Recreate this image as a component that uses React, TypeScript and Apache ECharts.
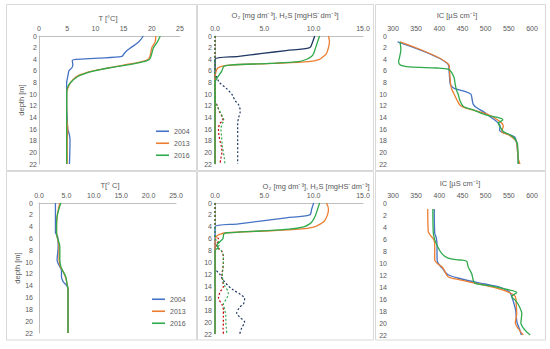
import React, { useEffect, useRef } from 'react';
import * as echarts from 'echarts';

const YEARS = ['2004', '2013', '2016'];
const DEPTH_MIN = 0;
const DEPTH_MAX = 22;

// ---------- Top-left: temperature ----------
const D_T_TOP_2004 = [0, 1, 2, 2.5, 3, 3.5, 3.8, 4, 4.2, 5, 5.5, 6, 7, 8, 10, 12, 14, 16, 17, 18, 22];
const T_TOP_2004 = [18.5, 17.7, 16.3, 15.6, 15.1, 14.7, 10.5, 6.6, 5.9, 6.0, 5.8, 5.3, 5.1, 4.9, 4.9, 4.9, 5.0, 5.1, 5.4, 5.5, 5.4];
const D_T_TOP_1316 = [0, 1, 2, 3, 4, 4.5, 5, 5.5, 6, 6.5, 7, 8, 9, 10, 12, 14, 16, 18, 20, 22];
const T_TOP_2013 = [20.7, 20.6, 20.0, 19.8, 19.4, 17.8, 15.0, 12.2, 9.6, 7.8, 6.6, 5.6, 5.1, 4.9, 4.9, 4.9, 5.1, 5.0, 5.0, 5.0];
const T_TOP_2016 = [21.5, 21.0, 20.3, 20.0, 19.6, 18.2, 15.5, 12.4, 9.8, 8.0, 6.8, 5.6, 5.0, 4.9, 4.9, 4.9, 4.9, 4.9, 4.9, 4.9];

// ---------- Top-middle: O2 and H2S ----------
const D_O2_TOP_2004 = [0, 1, 2, 2.5, 3, 3.5, 4, 22];
const O2_TOP_2004 = [10.1, 9.9, 9.6, 7.2, 4.8, 2.4, 0, 0];
const D_O2_TOP_2013 = [0, 1, 2, 3, 3.5, 4, 4.4, 4.7, 5, 5.3, 5.7, 6.5, 7, 22];
const O2_TOP_2013 = [11.5, 11.6, 11.5, 11.3, 11.0, 10.6, 9.5, 6.0, 1.5, 0.5, 0.2, 0.05, 0, 0];
const D_O2_TOP_2016 = [0, 1, 2, 3, 3.5, 4, 4.4, 4.7, 5, 5.2, 6, 7, 7.5, 8, 22];
const O2_TOP_2016 = [10.6, 10.4, 10.2, 10.0, 9.8, 9.3, 8.5, 5.5, 1.5, 0.9, 0.7, 0.3, 0.1, 0, 0];
const D_H2S_TOP_2004 = [0, 6, 7, 8, 9, 10, 11, 12, 13, 14, 15, 16, 18, 20, 22];
const H2S_TOP_2004 = [0, 0, 0.15, 0.45, 1.15, 1.7, 2.0, 2.45, 2.55, 2.4, 2.3, 2.3, 2.3, 2.3, 2.3];
const D_H2S_TOP_2013 = [0, 11, 11.5, 12, 13, 14, 14.5, 15, 16, 17, 18, 19, 20, 21, 22];
const H2S_TOP_2013 = [0, 0, 0.1, 0.25, 0.45, 0.75, 0.8, 0.5, 0.35, 0.4, 0.5, 0.65, 0.7, 0.6, 0.5];
const D_H2S_TOP_2016 = [0, 11, 12, 13, 14, 14.5, 15, 16, 17, 18, 19, 20, 21, 22];
const H2S_TOP_2016 = [0, 0, 0.2, 0.5, 0.8, 0.9, 0.75, 0.6, 0.65, 0.7, 0.75, 0.85, 0.95, 1.0];

// ---------- Top-right: IC ----------
const D_IC_TOP_2004 = [1, 5, 6, 7, 8, 8.5, 9, 9.5, 10, 11, 11.7, 12.3, 13, 14, 14.8, 15.4, 16.2, 17.3, 18.5, 20, 22];
const IC_TOP_2004 = [310, 420, 421, 422, 423, 425, 432, 455, 468, 471, 473, 480, 495, 512, 525, 531, 530, 562, 567, 569, 571];
const D_IC_TOP_2013 = [1, 5, 6, 7, 8, 9, 10, 11, 12, 12.5, 13, 13.5, 14, 14.5, 15, 15.5, 16, 16.5, 17, 18, 19, 20, 21, 22];
const IC_TOP_2013 = [315, 421, 422, 423, 424, 426, 432, 438, 446, 462, 485, 505, 518, 527, 535, 538, 536, 535, 550, 565, 568, 569, 570, 574];
const D_IC_TOP_2016 = [1, 2.3, 3.7, 4.4, 5, 5.3, 5.5, 5.7, 6.2, 7.2, 8.2, 9.3, 10.1, 11, 12.1, 12.7, 13.6, 14.1, 14.4, 15, 15.6, 16.4, 17.4, 18.8, 22];
const IC_TOP_2016 = [315, 317, 314, 312, 316, 336, 394, 419, 426, 432, 434, 437, 441, 444, 452, 473, 502, 531, 537, 527, 531, 538, 560, 569, 570];

// ---------- Bottom-left: temperature ----------
const D_T_BOT_2004 = [0, 2, 4, 5, 5.7, 7.4, 9.7, 10.8, 11.4, 12.5, 13.3, 13.9, 14.6, 16, 18, 20, 22];
const T_BOT_2004 = [3.0, 3.0, 3.0, 3.0, 3.4, 3.5, 3.3, 3.8, 4.1, 4.1, 4.4, 5.0, 5.3, 5.3, 5.3, 5.3, 5.3];
const D_T_BOT_2013 = [0, 1.2, 2.3, 4, 5, 5.7, 7.4, 9.5, 10.8, 11.6, 12.8, 14.8, 16, 18, 20, 22];
const T_BOT_2013 = [3.8, 3.5, 3.3, 3.2, 3.2, 3.3, 3.65, 3.65, 3.9, 4.4, 4.9, 5.3, 5.3, 5.3, 5.3, 5.3];
const D_T_BOT_2016 = [0, 0.8, 2.3, 4, 5, 5.7, 7.4, 9.5, 10.8, 11.6, 12.5, 13.6, 14.8, 16, 18, 20, 22];
const T_BOT_2016 = [4.0, 3.7, 3.3, 3.2, 3.2, 3.3, 3.8, 3.8, 4.0, 4.4, 4.9, 5.1, 5.3, 5.3, 5.3, 5.3, 5.3];

// ---------- Bottom-middle: O2 and H2S ----------
const D_O2_BOT_2004 = [0, 1, 2, 2.5, 3, 3.5, 4, 22];
const O2_BOT_2004 = [10.0, 9.8, 9.6, 7.2, 4.8, 2.4, 0, 0];
const D_O2_BOT_2013 = [0, 1, 2, 3, 3.5, 4, 4.4, 4.7, 5, 5.3, 5.6, 6, 7, 22];
const O2_BOT_2013 = [11.3, 11.5, 11.4, 11.1, 10.7, 10.1, 8.5, 5.0, 1.2, 0.4, 0.15, 0.05, 0, 0];
const D_O2_BOT_2016 = [0, 1, 2, 3, 3.5, 4, 4.4, 4.7, 5, 5.2, 6, 6.5, 7, 7.5, 8, 22];
const O2_BOT_2016 = [10.6, 10.4, 10.2, 9.9, 9.6, 9.0, 7.5, 4.5, 1.2, 0.9, 0.8, 0.5, 0.2, 0.3, 0, 0];
const D_H2S_BOT_2004 = [0, 11, 12, 13, 14, 14.6, 15.5, 16, 16.9, 17.5, 18.5, 19.3, 20, 21, 22];
const H2S_BOT_2004 = [0, 0.05, 0.5, 0.85, 1.4, 1.86, 2.7, 3.0, 2.9, 2.5, 2.2, 2.6, 3.0, 2.7, 2.5];
const D_H2S_BOT_2013 = [0, 5.5, 6, 6.5, 7, 7.5, 8, 9, 10, 11, 12, 13, 14, 15, 16, 17, 18, 19, 20, 21, 22];
const H2S_BOT_2013 = [0, 0, 0.35, 0.3, 0.1, 0.3, 0.65, 0.85, 0.85, 0.8, 0.7, 0.78, 0.85, 0.5, 0.35, 0.7, 0.85, 0.85, 0.85, 0.82, 0.85];
const D_H2S_BOT_2016 = [0, 6, 6.5, 7, 7.5, 8, 9, 10, 11, 12, 13, 14, 15, 16, 17, 18, 19, 20, 21, 22];
const H2S_BOT_2016 = [0, 0, 0.35, 0.45, 0.2, 0.65, 0.85, 0.85, 0.8, 0.75, 0.8, 1.0, 1.35, 1.2, 0.85, 1.0, 1.1, 1.1, 1.15, 1.2];

// ---------- Bottom-right: IC ----------
const D_IC_BOT_2004 = [1, 5, 5.5, 6, 7, 8, 9, 9.8, 10.5, 11, 11.5, 12, 12.5, 13, 13.5, 14, 14.5, 15, 16, 17, 18, 19, 20, 21, 22];
const IC_BOT_2004 = [389, 390, 392, 394, 395, 395, 395, 396, 402, 408, 412, 420, 440, 466, 498, 528, 545, 553, 558, 562, 565, 566, 568, 573, 577];
const D_IC_BOT_2013 = [1, 4.7, 5.3, 6.1, 7, 9.5, 10.1, 10.6, 11.1, 12.3, 12.8, 13.4, 14.2, 15, 15.6, 17, 18.4, 20, 21, 22];
const IC_BOT_2013 = [375, 376, 380, 388, 390, 390, 396, 405, 410, 419, 444, 480, 524, 553, 564, 566, 567, 564, 571, 581];
const D_IC_BOT_2016 = [1, 5, 6.1, 7.2, 8.4, 9.2, 9.5, 9.7, 10.6, 11.2, 11.8, 12.8, 13.4, 13.9, 14.4, 14.9, 15.6, 16.2, 17.3, 18.4, 20, 21.2, 22];
const IC_BOT_2016 = [386, 387, 390, 396, 405, 419, 444, 459, 462, 466, 470, 473, 477, 517, 546, 567, 556, 564, 573, 578, 576, 585, 596];

const BLUE = '#4472C4';
const ORANGE = '#ED7D31';
const GREEN = '#2FAA4C';
const NAVY = '#203864';
const RED = '#C00000';
const TXT = '#595959';
const FONT = 'Liberation Sans, Arial, sans-serif';

const zip = (depths: number[], vals: number[]) => vals.map((v, i) => [v, depths[i]]);

export default function App() {
  const ref = useRef<HTMLDivElement>(null);
  useEffect(() => {
    if (!ref.current) return;
    const chart = echarts.init(ref.current, undefined, { renderer: 'svg' });

    const grids = [
      { left: 39, top: 36, width: 141, height: 128 },
      { left: 215, top: 36, width: 148, height: 128 },
      { left: 393, top: 36, width: 139, height: 128 },
      { left: 39, top: 203, width: 137, height: 130 },
      { left: 215, top: 203, width: 148, height: 131 },
      { left: 393, top: 203, width: 139, height: 132 },
    ];
    const xCfg = [
      { min: 0, max: 25, interval: 5, fmt: (v: number) => String(v), line: true },
      { min: 0, max: 15, interval: 5, fmt: (v: number) => v.toFixed(1), line: true },
      { min: 300, max: 600, interval: 50, fmt: (v: number) => String(v), line: false },
      { min: 0, max: 25, interval: 5, fmt: (v: number) => v.toFixed(1), line: true },
      { min: 0, max: 15, interval: 5, fmt: (v: number) => v.toFixed(1), line: true },
      { min: 300, max: 600, interval: 50, fmt: (v: number) => String(v), line: false },
    ];
    const yMargins = [2, 3, 6, 6, 3, 6];

    const xAxis = xCfg.map((c, i) => ({
      gridIndex: i,
      type: 'value',
      position: 'top',
      min: c.min,
      max: c.max,
      interval: c.interval,
      axisLine: { show: c.line, onZero: false, lineStyle: { color: '#bfbfbf', width: 1 } },
      axisTick: { show: false },
      splitLine: { show: false },
      axisLabel: { fontSize: 7, color: TXT, fontFamily: FONT, margin: 4, formatter: c.fmt },
    }));
    const yAxis = grids.map((g, i) => ({
      gridIndex: i,
      type: 'value',
      inverse: true,
      min: DEPTH_MIN,
      max: DEPTH_MAX,
      interval: 2,
      name: i === 0 || i === 3 ? 'depth [m]' : '',
      nameLocation: 'middle',
      nameGap: i === 0 ? 14 : 16,
      nameTextStyle: { fontSize: 7.5, color: TXT, fontFamily: FONT },
      axisLine: { show: xCfg[i].line, onZero: false, lineStyle: { color: '#bfbfbf', width: 1 } },
      axisTick: { show: false },
      splitLine: { show: false },
      axisLabel: { fontSize: 7, color: TXT, fontFamily: FONT, margin: yMargins[i] },
    }));

    const mk = (name: string, idx: number, depths: number[], vals: number[], color: string, dashed = false) => ({
      name,
      type: 'line',
      xAxisIndex: idx,
      yAxisIndex: idx,
      data: zip(depths, vals),
      symbol: 'none',
      smooth: 0.3,
      silent: true,
      itemStyle: { color },
      lineStyle: { color, width: dashed ? 1.2 : 1.3, type: dashed ? [2, 2] : 'solid' },
    });

    const series = [
      mk(YEARS[0], 0, D_T_TOP_2004, T_TOP_2004, BLUE),
      mk(YEARS[1], 0, D_T_TOP_1316, T_TOP_2013, ORANGE),
      mk(YEARS[2], 0, D_T_TOP_1316, T_TOP_2016, GREEN),

      mk('H2S a 2004', 1, D_H2S_TOP_2004, H2S_TOP_2004, NAVY, true),
      mk('H2S a 2013', 1, D_H2S_TOP_2013, H2S_TOP_2013, RED, true),
      mk('O2 a 2004', 1, D_O2_TOP_2004, O2_TOP_2004, NAVY),
      mk('O2 a 2013', 1, D_O2_TOP_2013, O2_TOP_2013, ORANGE),
      mk('O2 a 2016', 1, D_O2_TOP_2016, O2_TOP_2016, GREEN),
      mk('H2S a 2016', 1, D_H2S_TOP_2016, H2S_TOP_2016, GREEN, true),

      mk('IC a 2004', 2, D_IC_TOP_2004, IC_TOP_2004, BLUE),
      mk('IC a 2013', 2, D_IC_TOP_2013, IC_TOP_2013, ORANGE),
      mk('IC a 2016', 2, D_IC_TOP_2016, IC_TOP_2016, GREEN),

      mk(YEARS[0], 3, D_T_BOT_2004, T_BOT_2004, BLUE),
      mk(YEARS[1], 3, D_T_BOT_2013, T_BOT_2013, ORANGE),
      mk(YEARS[2], 3, D_T_BOT_2016, T_BOT_2016, GREEN),

      mk('H2S b 2004', 4, D_H2S_BOT_2004, H2S_BOT_2004, NAVY, true),
      mk('H2S b 2013', 4, D_H2S_BOT_2013, H2S_BOT_2013, RED, true),
      mk('O2 b 2004', 4, D_O2_BOT_2004, O2_BOT_2004, BLUE),
      mk('O2 b 2013', 4, D_O2_BOT_2013, O2_BOT_2013, ORANGE),
      mk('O2 b 2016', 4, D_O2_BOT_2016, O2_BOT_2016, GREEN),
      mk('H2S b 2016', 4, D_H2S_BOT_2016, H2S_BOT_2016, GREEN, true),

      mk('IC b 2004', 5, D_IC_BOT_2004, IC_BOT_2004, BLUE),
      mk('IC b 2013', 5, D_IC_BOT_2013, IC_BOT_2013, ORANGE),
      mk('IC b 2016', 5, D_IC_BOT_2016, IC_BOT_2016, GREEN),
    ];

    const box = (x: number, y: number, w: number, h: number) => ({
      type: 'rect',
      shape: { x, y, width: w, height: h },
      style: { fill: 'none', stroke: '#d9d9d9', lineWidth: 1 },
      silent: true,
      z: -1,
    });
    const title = (text: string, x: number, y: number) => ({
      type: 'text',
      x,
      y,
      silent: true,
      style: { text, fontSize: 7.5, fill: TXT, fontFamily: FONT, align: 'center', verticalAlign: 'middle', textAlign: 'center', textVerticalAlign: 'middle' },
    });

    const legendBase = {
      orient: 'vertical',
      data: YEARS,
      icon: 'rect',
      itemWidth: 13,
      itemHeight: 1.6,
      itemGap: 3.5,
      selectedMode: false,
      textStyle: { fontSize: 7, color: TXT, fontFamily: FONT, lineHeight: 8.5 },
      padding: 0,
    };

    chart.setOption({
      animation: false,
      grid: grids.map((g) => ({ ...g, containLabel: false })),
      xAxis,
      yAxis,
      series,
      legend: [
        { ...legendBase, left: 156, top: 127 },
        { ...legendBase, left: 152, top: 295 },
      ],
      graphic: [
        box(6.5, 4.5, 190, 166),
        box(197.5, 4.5, 176, 166),
        box(375.5, 4.5, 170, 166),
        box(6.5, 171.5, 190, 168.5),
        box(197.5, 171.5, 176, 168.5),
        box(375.5, 171.5, 170, 168.5),
        title('T [°C]', 108, 18),
        title('O₂ [mg dm⁻³], H₂S [mgHS⁻dm⁻³]', 285, 15),
        title('IC [µS cm⁻¹]', 457, 15),
        title('T[° C]', 110, 185),
        title('O₂ [mg dm⁻³], H₂S [mgHS⁻dm⁻³]', 316, 186),
        title('IC [µS cm⁻¹]', 460, 183),
      ],
    });
    return () => chart.dispose();
  }, []);
  return <div ref={ref} style={{ position: 'absolute', left: 0, top: 0, width: 550, height: 349 }} />;
}
